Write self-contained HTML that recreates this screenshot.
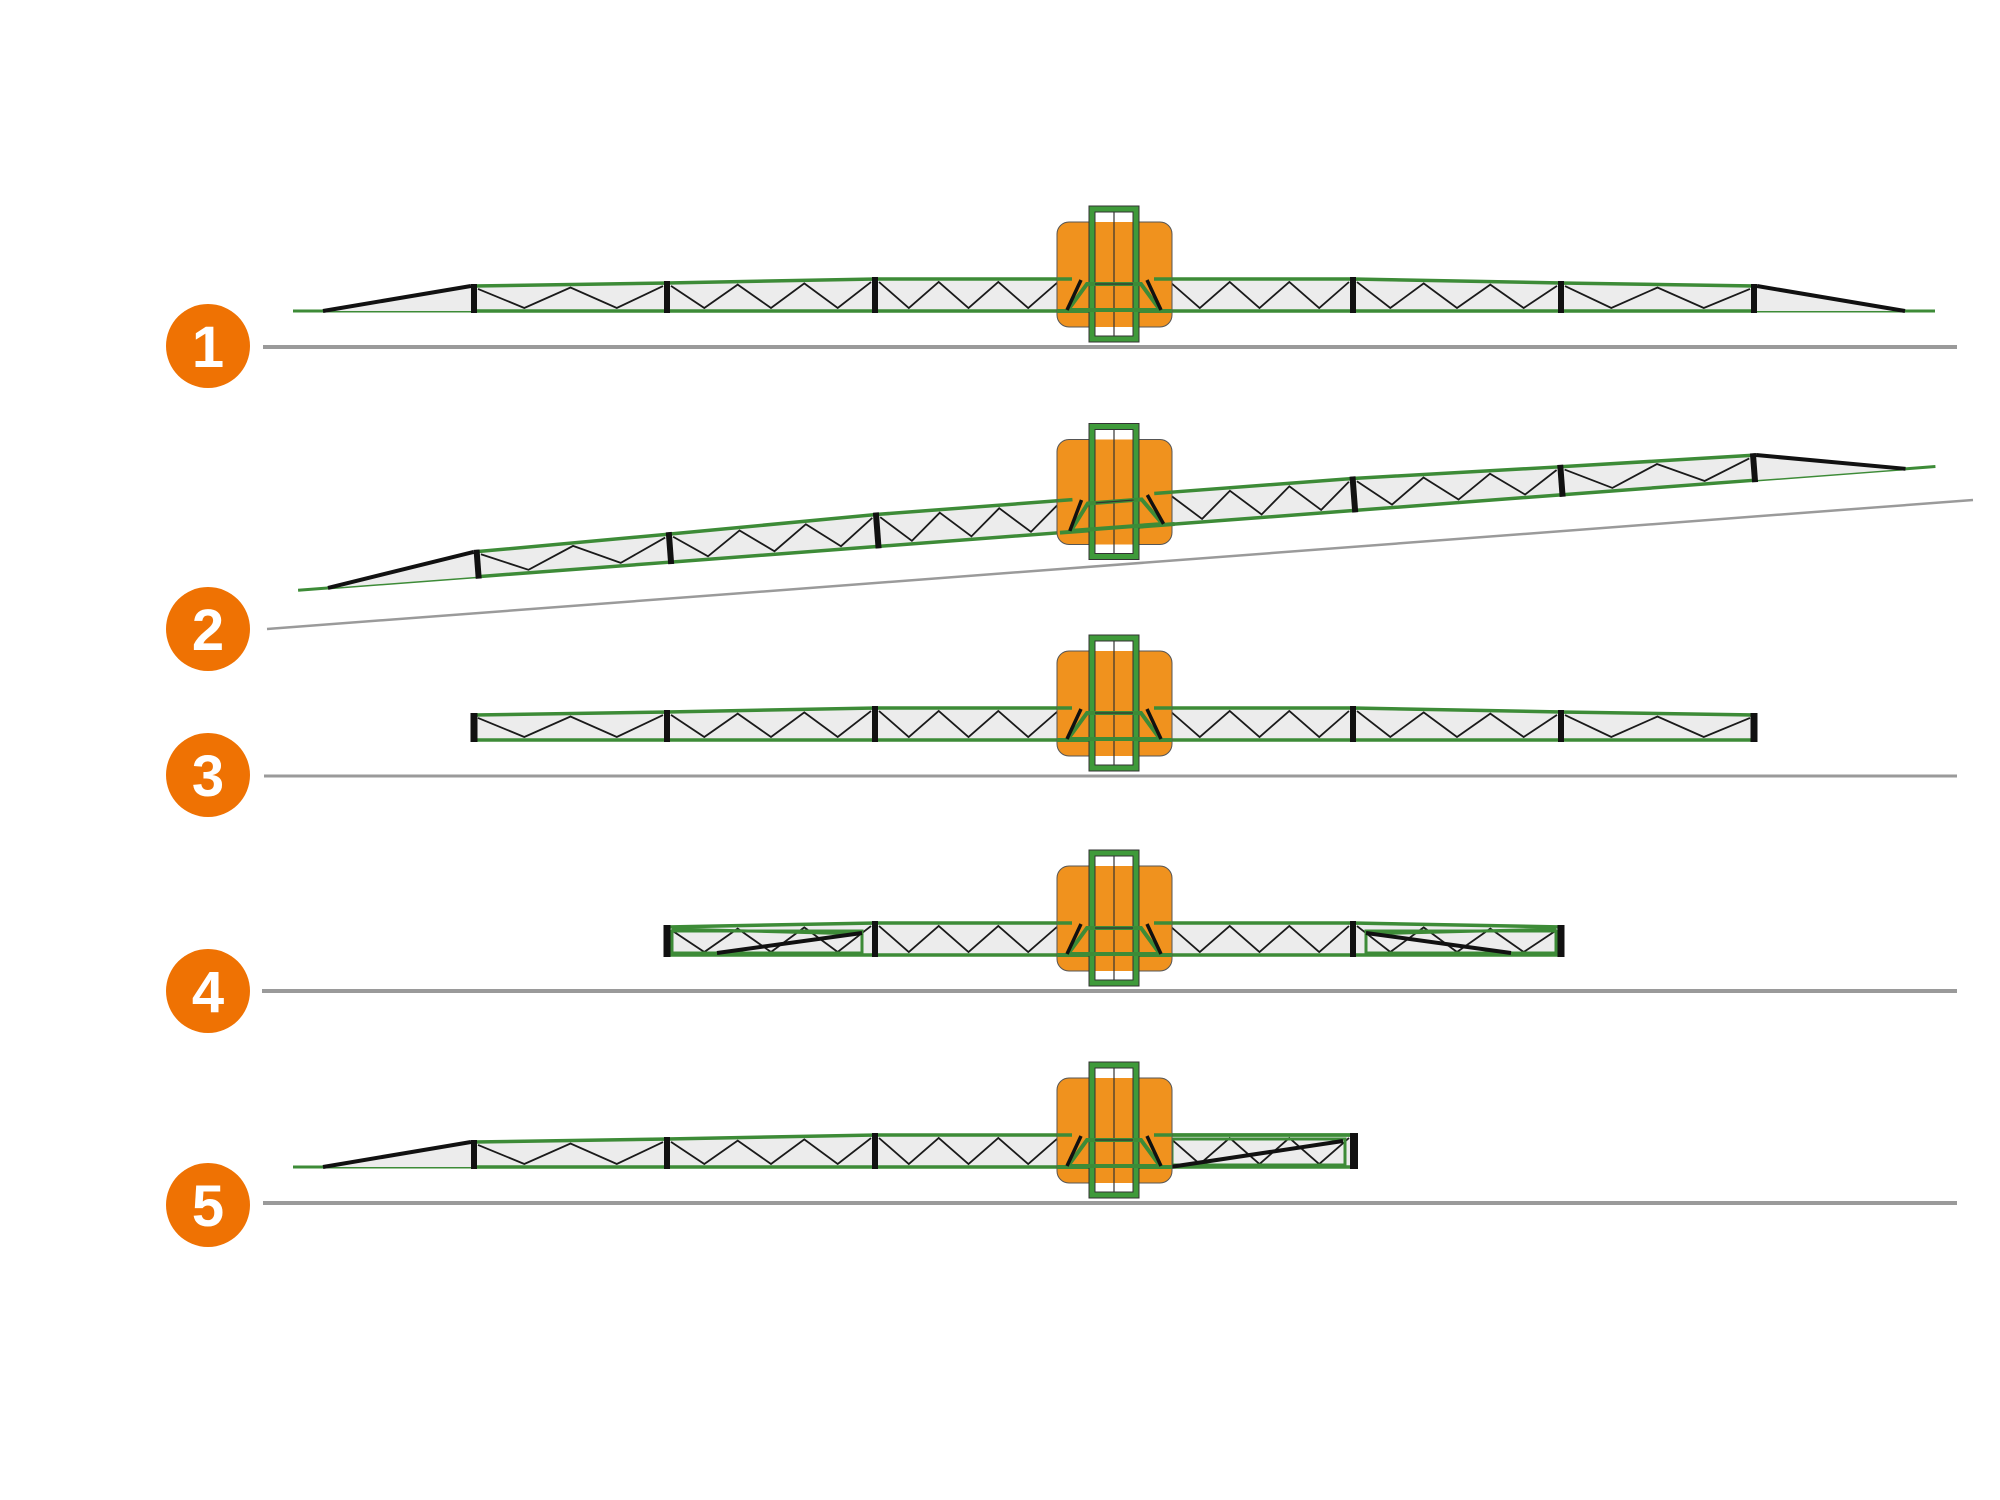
<!DOCTYPE html>
<html><head><meta charset="utf-8"><style>
html,body{margin:0;padding:0;background:#fff;width:2000px;height:1500px;overflow:hidden}
svg{display:block}
text{font-family:"Liberation Sans",sans-serif;font-weight:bold;fill:#fff}
</style></head><body>
<svg id="s" xmlns="http://www.w3.org/2000/svg" width="2000" height="1500" viewBox="0 0 2000 1500">
<rect width="2000" height="1500" fill="#fff"/>
<!-- ground lines -->
<line x1="263" y1="347" x2="1957" y2="347" stroke="#9a9a9a" stroke-width="4"/>
<line x1="267" y1="629" x2="1973" y2="500" stroke="#9a9a9a" stroke-width="2.5"/>
<line x1="264" y1="776" x2="1957" y2="776" stroke="#9a9a9a" stroke-width="3"/>
<line x1="262" y1="991" x2="1957" y2="991" stroke="#9a9a9a" stroke-width="4"/>
<line x1="263" y1="1203" x2="1957" y2="1203" stroke="#9a9a9a" stroke-width="4"/>
<!-- circles -->
<g>
<circle cx="208" cy="346" r="42" fill="#ef7203"/><text x="208" y="367" font-size="58" text-anchor="middle">1</text>
<circle cx="208" cy="629" r="42" fill="#ef7203"/><text x="208" y="650" font-size="58" text-anchor="middle">2</text>
<circle cx="208" cy="775" r="42" fill="#ef7203"/><text x="208" y="796" font-size="58" text-anchor="middle">3</text>
<circle cx="208" cy="991" r="42" fill="#ef7203"/><text x="208" y="1012" font-size="58" text-anchor="middle">4</text>
<circle cx="208" cy="1205" r="42" fill="#ef7203"/><text x="208" y="1226" font-size="58" text-anchor="middle">5</text>
</g>
<g id="rows"></g>
</svg>
<script>
var G="#3d8b37",F="#ececec",O="#f0921e",C=1114,B=311;
function topY(x){var d=Math.abs(x-C);if(d<=239)return 279;if(d<=447)return 279+(d-239)/208*4;return 283+(d-447)/193*3;}
function panel(a,b,n){var ya=topY(a),yb=topY(b),s='';
s+='<polygon points="'+a+','+ya+' '+b+','+yb+' '+b+','+B+' '+a+','+B+'" fill="'+F+'" stroke="'+G+'" stroke-width="3.5"/>';
var p=[],x0=a+4,x1=b-4;for(var i=0;i<=n;i++){var x=x0+(x1-x0)*i/n;var y=(i%2==0)?topY(x)+3:B-3;p.push(x.toFixed(1)+','+y.toFixed(1));}
s+='<polyline points="'+p.join(' ')+'" fill="none" stroke="#1a1a1a" stroke-width="1.8"/>';return s;}
function frame(x,w){w=w||6;var t=topY(x);return '<rect x="'+(x-w/2)+'" y="'+(t-2)+'" width="'+w+'" height="'+(B-t+4)+'" fill="#111"/>';}
function tipL(){return '<line x1="293" y1="311" x2="474" y2="311" stroke="'+G+'" stroke-width="3"/><polygon points="328,311 474,286 474,311" fill="'+F+'"/><line x1="323" y1="311" x2="471" y2="286" stroke="#111" stroke-width="4"/>';}
function tipR(){return '<line x1="1754" y1="311" x2="1935" y2="311" stroke="'+G+'" stroke-width="3"/><polygon points="1900,311 1754,286 1754,311" fill="'+F+'"/><line x1="1905" y1="311" x2="1757" y2="286" stroke="#111" stroke-width="4"/>';}
function center(){var s='';
s+='<rect x="1057" y="222" width="115" height="105" rx="12" fill="'+O+'" stroke="#555" stroke-width="1"/>';
s+='<line x1="1057" y1="279" x2="1072" y2="279" stroke="'+G+'" stroke-width="3.5"/>';
s+='<line x1="1154" y1="279" x2="1172" y2="279" stroke="'+G+'" stroke-width="3.5"/>';
s+='<line x1="1057" y1="311" x2="1172" y2="311" stroke="'+G+'" stroke-width="4"/>';
return s;}
function chassis(){var s='';
s+='<rect x="1089" y="206" width="50" height="136" fill="#3f9a3a" stroke="#333" stroke-width="1"/>';
s+='<rect x="1095" y="212" width="38" height="124" fill="#fff" stroke="#333" stroke-width="1"/>';
s+='<rect x="1095.5" y="222" width="37" height="105" fill="'+O+'"/>';
s+='<line x1="1114" y1="212" x2="1114" y2="336" stroke="#333" stroke-width="1.2"/>';
return s;}
function trap(){var s='';
s+='<polygon points="1087,284 1141,284 1160,310 1068,310" fill="none" stroke="'+G+'" stroke-width="4"/>';
s+='<line x1="1095" y1="284" x2="1133" y2="284" stroke="#333" stroke-width="1.2"/>';
s+='<line x1="1081" y1="280" x2="1067" y2="310" stroke="#111" stroke-width="3.5"/>';
s+='<line x1="1147" y1="280" x2="1161" y2="310" stroke="#111" stroke-width="3.5"/>';
return s;}
function fullBoom(tips){var s='';
if(tips)s+=tipL()+tipR();
s+=panel(474,667,4)+panel(667,875,6)+panel(875,1062,6)+panel(1166,1353,6)+panel(1353,1561,6)+panel(1561,1754,4);
s+=frame(474)+frame(667)+frame(875)+frame(1353)+frame(1561)+frame(1754);
return s;}
var out='';
// Row 1
out+='<g>'+fullBoom(true)+center()+chassis()+trap()+'</g>';
// Row 2
out+='<g transform="translate(0,217.5)"><g transform="rotate(-4.32 1114 274.5)">'+fullBoom(true)+'</g>'+
 '<rect x="1057" y="222" width="115" height="105" rx="12" fill="'+O+'" stroke="#555" stroke-width="1"/>'+
 '<g transform="rotate(-4.32 1114 274.5)"><line x1="1057" y1="279" x2="1072" y2="279" stroke="'+G+'" stroke-width="3.5"/><line x1="1154" y1="279" x2="1172" y2="279" stroke="'+G+'" stroke-width="3.5"/><line x1="1057" y1="311" x2="1172" y2="311" stroke="'+G+'" stroke-width="4"/></g>'+
 chassis()+'<g transform="rotate(-4.32 1114 274.5)">'+trap()+'</g></g>';
// Row 3
out+='<g transform="translate(0,429)">'+fullBoom(false)+frame(474,7)+frame(1754,7)+center()+chassis()+trap()+'</g>';
// Row 4
var r4='';
r4+=panel(667,875,6)+panel(875,1062,6)+panel(1166,1353,6)+panel(1353,1561,6);
r4+='<rect x="672" y="287" width="190" height="22" fill="none" stroke="'+G+'" stroke-width="3"/>';
r4+='<line x1="672" y1="285" x2="862" y2="290" stroke="'+G+'" stroke-width="3"/>';
r4+='<line x1="717" y1="309" x2="862" y2="289" stroke="#111" stroke-width="4"/>';
r4+='<rect x="1366" y="287" width="190" height="22" fill="none" stroke="'+G+'" stroke-width="3"/>';
r4+='<line x1="1556" y1="285" x2="1366" y2="290" stroke="'+G+'" stroke-width="3"/>';
r4+='<line x1="1511" y1="309" x2="1366" y2="289" stroke="#111" stroke-width="4"/>';
r4+=frame(667,7)+frame(875)+frame(1353)+frame(1561,7);
out+='<g transform="translate(0,644)">'+r4+center()+chassis()+trap()+'</g>';
// Row 5
var r5='';
r5+=tipL()+panel(474,667,4)+panel(667,875,6)+panel(875,1062,6)+panel(1166,1353,6);
r5+='<rect x="1172" y="283" width="173" height="26" fill="none" stroke="'+G+'" stroke-width="3"/>';
r5+='<line x1="1168" y1="279" x2="1350" y2="279" stroke="'+G+'" stroke-width="3.5"/>';
r5+='<line x1="1170" y1="311" x2="1343" y2="285" stroke="#111" stroke-width="4"/>';
r5+=frame(474)+frame(667)+frame(875)+frame(1354,8);
out+='<g transform="translate(0,856)">'+r5+center()+chassis()+trap()+'</g>';
document.getElementById('rows').innerHTML=out;
</script>
</body></html>
